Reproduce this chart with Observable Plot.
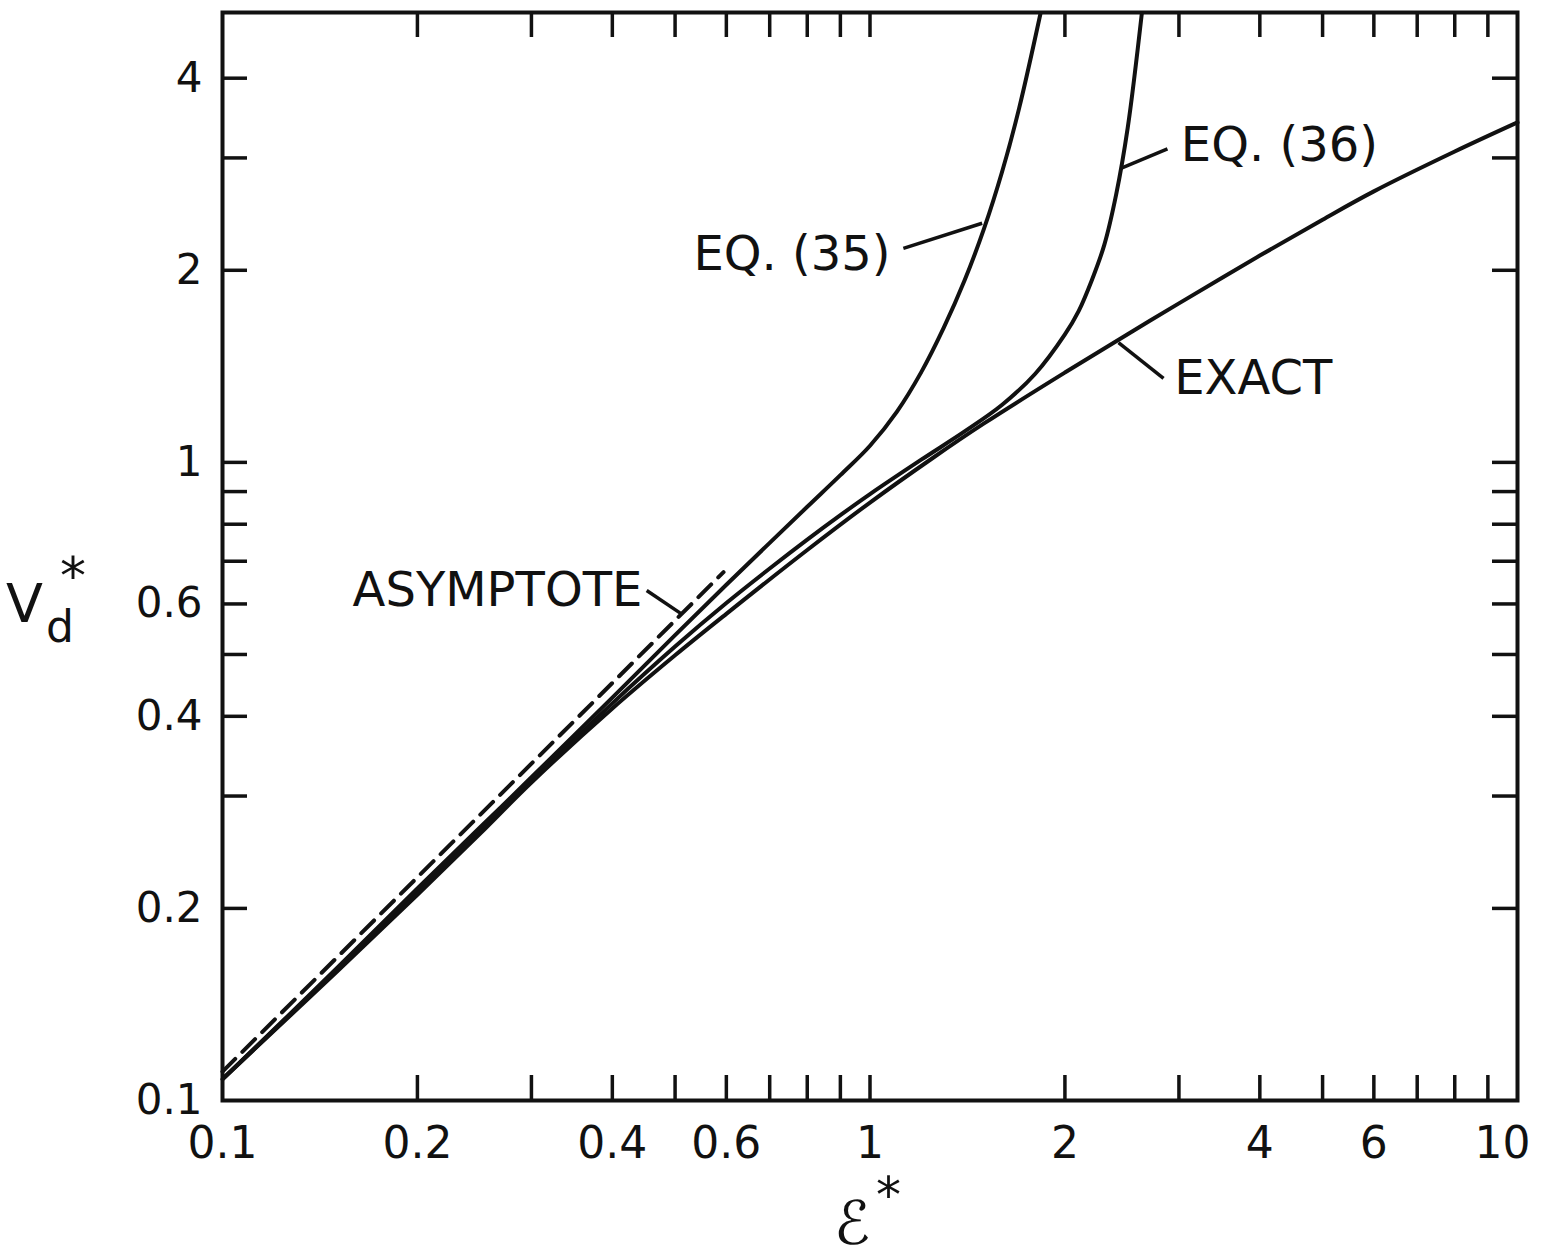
<!DOCTYPE html>
<html>
<head>
<meta charset="utf-8">
<script src="https://cdn.jsdelivr.net/npm/d3@7"></script>
<script src="https://cdn.jsdelivr.net/npm/@observablehq/plot@0.6"></script>
<style>
  html, body { margin: 0; padding: 0; background: #fff; }
  #chart { width: 1541px; height: 1259px; }
  svg text { font-family: "DejaVu Sans", sans-serif; }
</style>
</head>
<body>
<div id="chart"></div>
<script>
// ---- data ----
const exactX = [0.1, 0.15, 0.2, 0.25, 0.3, 0.4, 0.5, 0.6, 0.8, 1, 1.25, 1.5, 2, 2.5, 3, 4, 5, 6, 8, 10];
const exactY = [0.108, 0.159, 0.210, 0.262, 0.315, 0.4115, 0.4986, 0.579, 0.729, 0.865, 1.016, 1.151, 1.383, 1.588, 1.775, 2.109, 2.401, 2.659, 3.07, 3.41];

const eq36X = [0.1, 0.15, 0.2, 0.25, 0.3, 0.4, 0.5, 0.6, 0.7, 0.8, 0.9, 1, 1.2, 1.4, 1.6, 1.8, 2, 2.1, 2.2, 2.3, 2.4, 2.5, 2.63];
const eq36Y = [0.108, 0.160, 0.212, 0.265, 0.317, 0.4191, 0.5144, 0.6019, 0.6818, 0.7567, 0.8266, 0.8918, 1.0097, 1.118, 1.231, 1.377, 1.587, 1.726, 1.928, 2.19, 2.63, 3.34, 5.07];

const eq35X = [0.1, 0.15, 0.2, 0.25, 0.3, 0.4, 0.5, 0.6, 0.7, 0.8, 0.9, 1, 1.1, 1.2, 1.3, 1.4, 1.5, 1.6, 1.7, 1.835];
const eq35Y = [0.108, 0.161, 0.215, 0.268, 0.321, 0.428, 0.536, 0.643, 0.748, 0.852, 0.955, 1.062, 1.200, 1.385, 1.626, 1.929, 2.324, 2.856, 3.594, 5.07];

const asymX = [0.1, 0.594];
const asymY = [0.111, 0.673];

const xTickLabels = [0.1, 0.2, 0.4, 0.6, 1, 2, 4, 6];
const xLastLabel = [10];
const yTickLabels = [0.1, 0.2, 0.4, 0.6, 1, 2, 4];
const xMinorTicks = [0.2, 0.3, 0.4, 0.5, 0.6, 0.7, 0.8, 0.9, 1, 2, 3, 4, 5, 6, 7, 8, 9];
const yMinorTicks = [0.2, 0.3, 0.4, 0.5, 0.6, 0.7, 0.8, 0.9, 1, 2, 3, 4];

const labelText = ["EQ. (35)", "EQ. (36)", "EXACT", "ASYMPTOTE"];
const labelX = [1.076, 3.02, 2.95, 0.445];
const labelY = [2.12, 3.14, 1.354, 0.630];
const labelAnchor = ["end", "start", "start", "end"];
const leaderX1 = [1.126, 2.88, 2.84, 0.452];
const leaderY1 = [2.165, 3.10, 1.354, 0.630];
const leaderX2 = [1.49, 2.44, 2.42, 0.51];
const leaderY2 = [2.37, 2.89, 1.54, 0.58];

// ---- build tables ----
const toPts = (xs, ys) => xs.map((x, i) => ({x, y: ys[i]}));
const exact = toPts(exactX, exactY);
const eq36 = toPts(eq36X, eq36Y);
const eq35 = toPts(eq35X, eq35Y);
const asym = toPts(asymX, asymY);
const labels = labelText.map((t, i) => ({text: t, x: labelX[i], y: labelY[i], anchor: labelAnchor[i]}));
const leaders = leaderX1.map((x1, i) => ({x1, y1: leaderY1[i], x2: leaderX2[i], y2: leaderY2[i]}));

const W = 1541, H = 1259;
const mL = 222, mR = 24, mT = 12, mB = 159;
const innerW = W - mL - mR, innerH = H - mT - mB;
const tickLen = 25;
const ink = "#111";
const fmt = d => String(d);
const lw = 4;

const svg = Plot.plot({
  width: W,
  height: H,
  marginLeft: mL,
  marginRight: mR,
  marginTop: mT,
  marginBottom: mB,
  style: {background: "#fff", color: ink, fontFamily: "DejaVu Sans, sans-serif"},
  x: {type: "log", domain: [0.1, 10], axis: null},
  y: {type: "log", domain: [0.1, 5.07], axis: null},
  marks: [
    // inward ticks on all four sides
    Plot.tickX(xMinorTicks, {x: d => d, insetTop: innerH - tickLen, stroke: ink, strokeWidth: 3.5}),
    Plot.tickX(xMinorTicks, {x: d => d, insetBottom: innerH - tickLen, stroke: ink, strokeWidth: 3.5}),
    Plot.tickY(yMinorTicks, {y: d => d, insetRight: innerW - tickLen, stroke: ink, strokeWidth: 3.5}),
    Plot.tickY(yMinorTicks, {y: d => d, insetLeft: innerW - tickLen, stroke: ink, strokeWidth: 3.5}),
    // tick labels
    Plot.text(xTickLabels, {x: d => d, text: fmt, frameAnchor: "bottom", lineAnchor: "top", dy: 26, fontSize: 44, fill: ink}),
    Plot.text(xLastLabel, {x: d => d, text: fmt, frameAnchor: "bottom", lineAnchor: "top", textAnchor: "end", dx: 13, dy: 26, fontSize: 44, fill: ink}),
    Plot.text(yTickLabels, {y: d => d, text: fmt, frameAnchor: "left", textAnchor: "end", dx: -20, fontSize: 42, fill: ink}),
    // curves
    Plot.line(asym, {x: "x", y: "y", stroke: ink, strokeWidth: lw, strokeDasharray: "18,10"}),
    Plot.line(exact, {x: "x", y: "y", stroke: ink, strokeWidth: lw, curve: "catmull-rom"}),
    Plot.line(eq36, {x: "x", y: "y", stroke: ink, strokeWidth: lw, curve: "catmull-rom", clip: true}),
    Plot.line(eq35, {x: "x", y: "y", stroke: ink, strokeWidth: lw, curve: "catmull-rom", clip: true}),
    // leaders and labels
    Plot.link(leaders, {x1: "x1", y1: "y1", x2: "x2", y2: "y2", stroke: ink, strokeWidth: 3.5}),
    Plot.text(labels.filter(d => d.anchor === "end"), {x: "x", y: "y", text: "text", textAnchor: "end", fontSize: 48, fill: ink}),
    Plot.text(labels.filter(d => d.anchor === "start"), {x: "x", y: "y", text: "text", textAnchor: "start", fontSize: 48, fill: ink}),
    Plot.frame({stroke: ink, strokeWidth: 4})
  ]
});

// axis titles with sub/superscripts
const s = d3.select(svg);
const yt = s.append("text").attr("fill", ink).attr("text-anchor", "start").attr("font-family", "DejaVu Sans, sans-serif");
yt.append("tspan").attr("x", 6).attr("y", 622).attr("font-size", 54).text("V");
yt.append("tspan").attr("x", 46).attr("y", 642).attr("font-size", 44).text("d");
yt.append("tspan").attr("x", 60).attr("y", 594).attr("font-size", 52).text("*");

const xt = s.append("text").attr("fill", ink).attr("text-anchor", "start").attr("font-family", "DejaVu Sans, sans-serif");
xt.append("tspan").attr("x", 834).attr("y", 1244).attr("font-size", 60).attr("font-style", "italic").text("ℰ");
xt.append("tspan").attr("x", 876).attr("y", 1212).attr("font-size", 50).text("*");

document.getElementById("chart").appendChild(svg);
</script>
</body>
</html>
